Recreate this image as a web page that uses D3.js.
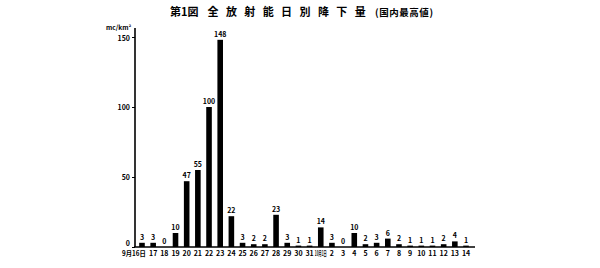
<!DOCTYPE html>
<html>
<head>
<meta charset="utf-8">
<script src="https://cdn.jsdelivr.net/npm/d3@7"></script>
<style>
  body { margin: 0; background: #fff; }
  svg text { font-family: "Noto Sans CJK JP", "DejaVu Sans", sans-serif; fill: #000; }
</style>
</head>
<body>
<div id="chart"></div>
<script>
// days as printed on the x axis
const days = ["9月16日", "17", "18", "19", "20", "21", "22", "23", "24", "25", "26", "27", "28", "29", "30", "31",
    "10月1日", "2", "3", "4", "5", "6", "7", "8", "9", "10", "11", "12", "13", "14"];
// daily fallout, mc/km²
const fallout = [3, 3, 0, 10, 47, 55, 100, 148, 22, 3, 2, 2, 23, 3, 1, 1,
    14, 3, 0, 10, 2, 3, 6, 2, 1, 1, 1, 2, 4, 1];
const yTicks = [0, 50, 100, 150];
const titleChars = ["全", "放", "射", "能", "日", "別", "降", "下", "量"];

const width = 600;
const height = 268;

const svg = d3.select("#chart")
    .append("svg")
    .attr("width", width)
    .attr("height", height);

const data = days.map((d, i) => ({ day: d, value: fallout[i] }));

const x = d3.scaleBand()
    .domain(d3.range(days.length))
    .range([136.4, 471.6])
    .paddingInner(0.5)
    .paddingOuter(0.25);

const y = d3.scaleLinear()
    .domain([0, 150])
    .range([247, 37]);

// title
svg.append("text")
    .attr("x", 170)
    .attr("y", 16)
    .attr("font-size", 11)
    .attr("font-weight", "bold")
    .text("第1図");

svg.selectAll(".tc")
    .data(titleChars)
    .enter()
    .append("text")
    .attr("class", "tc")
    .attr("x", (d, i) => 213 + i * 18.4)
    .attr("y", 16)
    .attr("text-anchor", "middle")
    .attr("font-size", 11)
    .attr("font-weight", "bold")
    .text(d => d);

svg.append("text")
    .attr("x", 375)
    .attr("y", 16)
    .attr("font-size", 9.5)
    .attr("font-weight", "bold")
    .attr("textLength", 58)
    .text("(国内最高値)");

// unit
svg.append("text")
    .attr("x", 106)
    .attr("y", 30)
    .attr("font-size", 6.5)
    .attr("font-weight", "bold")
    .text("mc/km²");

// y axis
const yAxis = d3.axisLeft(y)
    .tickValues(yTicks)
    .tickSize(3)
    .tickPadding(2);

const gy = svg.append("g")
    .attr("transform", "translate(135,0)")
    .call(yAxis);
gy.select(".domain").remove();
gy.selectAll("text")
    .attr("font-size", 7)
    .attr("font-weight", "bold");
gy.selectAll(".tick")
    .filter(d => d === 0)
    .select("text")
    .attr("dy", "-0.2em");
gy.selectAll(".tick")
    .filter(d => d === 150)
    .select("text")
    .attr("dy", "0.5em");

svg.append("line")
    .attr("x1", 135).attr("x2", 135)
    .attr("y1", 28).attr("y2", y(0))
    .attr("stroke", "#000")
    .attr("stroke-width", 1.6);

// x axis
const xAxis = d3.axisBottom(x)
    .tickFormat(i => days[i])
    .tickSize(0)
    .tickPadding(4);

const gx = svg.append("g")
    .attr("transform", `translate(0,${y(0)})`)
    .call(xAxis);
gx.select(".domain").remove();
gx.selectAll("text")
    .attr("font-size", 7)
    .attr("font-weight", "bold");

// the two month labels are squeezed like in the print
const squeeze = i => i === 0 ? 0.9 : 0.45;
gx.selectAll(".tick")
    .filter(i => days[i].length > 2)
    .select("text")
    .attr("text-anchor", i => i === 0 ? "end" : "middle")
    .attr("x", i => i === 0 ? (x.bandwidth() / 2 + 1) / squeeze(i) : 0)
    .attr("transform", i => `scale(${squeeze(i)},1)`);

svg.append("line")
    .attr("x1", 134).attr("x2", 475)
    .attr("y1", y(0)).attr("y2", y(0))
    .attr("stroke", "#000")
    .attr("stroke-width", 1.6);

// bars
svg.selectAll(".bar")
    .data(data)
    .enter()
    .append("rect")
    .attr("class", "bar")
    .attr("x", (d, i) => x(i))
    .attr("y", d => y(d.value))
    .attr("width", x.bandwidth())
    .attr("height", d => y(0) - y(d.value))
    .attr("fill", "#000");

// value labels
svg.selectAll(".val")
    .data(data)
    .enter()
    .append("text")
    .attr("class", "val")
    .attr("x", (d, i) => x(i) + x.bandwidth() / 2)
    .attr("y", d => y(d.value) - 3)
    .attr("text-anchor", "middle")
    .attr("font-size", 7)
    .attr("font-weight", "bold")
    .text(d => d.value);
</script>
</body>
</html>
